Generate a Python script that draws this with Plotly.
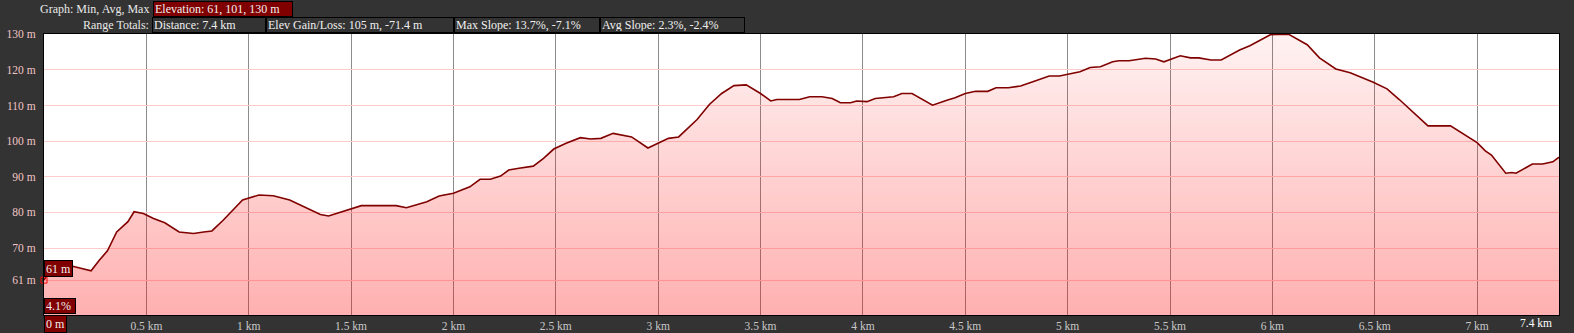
import plotly.graph_objects as go

# ---- data ----
dist_km = [0.00, 0.04, 0.14, 0.17, 0.20, 0.23, 0.27, 0.31, 0.355, 0.41, 0.44, 0.485, 0.535, 0.59,
           0.66, 0.73, 0.78, 0.82, 0.875, 0.97, 1.05, 1.12, 1.20, 1.28, 1.35, 1.39, 1.49, 1.55,
           1.72, 1.77, 1.87, 1.93, 2.00, 2.08, 2.13, 2.18, 2.23, 2.27, 2.32, 2.39, 2.44, 2.49,
           2.55, 2.62, 2.67, 2.72, 2.78, 2.83, 2.87, 2.95, 3.01, 3.05, 3.10, 3.19, 3.25, 3.31,
           3.37, 3.43, 3.50, 3.55, 3.58, 3.69, 3.74, 3.80, 3.85, 3.89, 3.94, 3.97, 4.02, 4.06,
           4.15, 4.19, 4.24, 4.34, 4.41, 4.45, 4.50, 4.55, 4.61, 4.65, 4.71, 4.77, 4.83, 4.91,
           4.96, 5.00, 5.06, 5.11, 5.16, 5.22, 5.25, 5.30, 5.38, 5.43, 5.47, 5.55, 5.60, 5.64,
           5.70, 5.75, 5.79, 5.84, 5.89, 5.99, 6.02, 6.08, 6.17, 6.23, 6.31, 6.38, 6.49, 6.56,
           6.62, 6.69, 6.76, 6.87, 6.93, 7.00, 7.04, 7.07, 7.14, 7.17, 7.19, 7.27, 7.32, 7.37, 7.40]
elev_m = [61.0, 64.6, 64.9, 64.5, 64.0, 63.6, 66.6, 69.2, 74.5, 77.4, 80.2, 79.7, 78.3, 77.1,
          74.5, 74.1, 74.5, 74.8, 77.8, 83.5, 84.9, 84.7, 83.5, 81.4, 79.4, 79.0, 80.8, 81.9,
          81.9, 81.3, 83.0, 84.6, 85.4, 87.2, 89.3, 89.3, 90.2, 91.9, 92.4, 93.0, 95.2, 97.8,
          99.4, 101.0, 100.6, 100.8, 102.2, 101.7, 101.2, 98.1, 99.8, 100.8, 101.2, 106.1, 110.3, 113.4,
          115.6, 115.8, 113.4, 111.3, 111.7, 111.7, 112.5, 112.5, 112.0, 110.8, 110.8, 111.3, 111.1, 112.0,
          112.5, 113.4, 113.4, 110.1, 111.5, 112.2, 113.4, 114.0, 114.0, 115.0, 115.0, 115.5, 116.7, 118.3,
          118.3, 118.8, 119.5, 120.7, 120.9, 122.3, 122.6, 122.6, 123.3, 123.1, 122.3, 124.0, 123.4, 123.4,
          122.8, 122.8, 124.1, 125.6, 126.8, 129.9, 130.0, 130.0, 127.1, 123.4, 120.3, 119.2, 116.6, 114.7,
          111.7, 108.0, 104.3, 104.3, 102.2, 99.6, 97.3, 96.1, 91.0, 91.2, 91.0, 93.6, 93.6, 94.2, 95.5]

x_tick_vals = [0.5, 1, 1.5, 2, 2.5, 3, 3.5, 4, 4.5, 5, 5.5, 6, 6.5, 7]
x_tick_text = ["0.5 km", "1 km", "1.5 km", "2 km", "2.5 km", "3 km", "3.5 km", "4 km",
               "4.5 km", "5 km", "5.5 km", "6 km", "6.5 km", "7 km"]
y_tick_vals = [61, 70, 80, 90, 100, 110, 120, 130]
y_tick_text = ["61 m", "70 m", "80 m", "90 m", "100 m", "110 m", "120 m", "130 m"]

header_row1 = [("Elevation: 61, 101, 130 m", 153, 293)]
header_row2 = [("Distance: 7.4 km", 152, 266), ("Elev Gain/Loss: 105 m, -71.4 m", 266, 454),
               ("Max Slope: 13.7%, -7.1%", 454, 600), ("Avg Slope: 2.3%, -2.4%", 600, 745)]
cursor_elev = "61 m"
cursor_slope = "4.1%"
cursor_dist = "0 m"
total_dist = "7.4 km"

# ---- layout geometry ----
W, H = 1574, 333
L, R, T, B = 44, 15, 34, 18
PW, PH = W - L - R, H - T - B
FONT = "Liberation Serif"
BG = "#333333"
DARKRED = "#800000"


def px(xp):
    return (xp - L) / PW


def py(yp):
    return (H - B - yp) / PH


fig = go.Figure()
fig.add_trace(go.Scatter(
    x=dist_km, y=elev_m, mode="lines",
    line=dict(color=DARKRED, width=1.6),
    fill="tozeroy",
    fillgradient=dict(type="vertical", start=51.2, stop=130.1,
                      colorscale=[[0, "rgba(255,0,0,0.31)"], [1, "rgba(255,0,0,0.05)"]]),
    hoverinfo="skip", showlegend=False,
))
fig.add_trace(go.Scatter(
    x=[dist_km[0]], y=[elev_m[0]], mode="markers",
    marker=dict(symbol="square-open", size=6, color="#ff0000", line=dict(width=1)),
    hoverinfo="skip", showlegend=False, cliponaxis=False,
))

annotations = []


def box(text, x0, x1, y0, y1, bg, color="#f0f0f0", size=12, bold=False):
    bw, pad = 1, 1
    annotations.append(dict(
        text=("<b>%s</b>" % text) if bold else text,
        xref="paper", yref="paper", x=px(x0), y=py(y0),
        xanchor="left", yanchor="top", showarrow=False,
        width=x1 - x0 - 2 * pad - 2 * bw, height=y1 - y0 - 2 * pad - 2 * bw,
        align="left", valign="middle",
        bgcolor=bg, bordercolor="#000000", borderwidth=bw, borderpad=pad,
        font=dict(family=FONT, size=size, color=color),
    ))


def label(text, xr, yc, color="#e8e8e8", size=12, anchor="right"):
    annotations.append(dict(
        text=text, xref="paper", yref="paper", x=px(xr), y=py(yc),
        xanchor=anchor, yanchor="middle", showarrow=False,
        font=dict(family=FONT, size=size, color=color),
    ))


label("Graph: Min, Avg, Max", 151, 9)
label("Range Totals:", 151, 25)
for t, a, b in header_row1:
    box(t, a, b, 1, 17, DARKRED)
for t, a, b in header_row2:
    box(t, a, b, 17, 33, BG)

box(cursor_elev, 44, 73, 260, 277, DARKRED, size=12)
box(cursor_slope, 44, 76, 298, 314, DARKRED, size=12)
box(cursor_dist, 44, 67, 315, 333, DARKRED, size=12)
label(total_dist, 1554, 323, color="#ffffff", size=11.5)

fig.update_layout(
    width=W, height=H,
    margin=dict(l=L, r=R, t=T, b=B, pad=0, autoexpand=False),
    paper_bgcolor=BG, plot_bgcolor="#ffffff",
    annotations=annotations,
    font=dict(family=FONT, size=11),
)
fig.update_xaxes(
    range=[0, 7.4], tickvals=x_tick_vals, ticktext=x_tick_text,
    showgrid=True, gridcolor="#8c8c8c", gridwidth=1, zeroline=False,
    showline=True, mirror=True, linecolor="#000000", linewidth=1,
    ticks="", tickfont=dict(family=FONT, size=11.5, color="#c8c8c8"),
    ticklabelstandoff=0, automargin=False,
)
fig.update_yaxes(
    range=[51.2, 130.1], tickvals=y_tick_vals, ticktext=y_tick_text,
    showgrid=True, gridcolor="#ffcccc", gridwidth=1, zeroline=False,
    showline=True, mirror=True, linecolor="#000000", linewidth=1,
    ticks="", tickfont=dict(family=FONT, size=11.5, color="#f2c4c4"),
    ticklabelstandoff=5, automargin=False,
)

fig.write_html("out.html")
